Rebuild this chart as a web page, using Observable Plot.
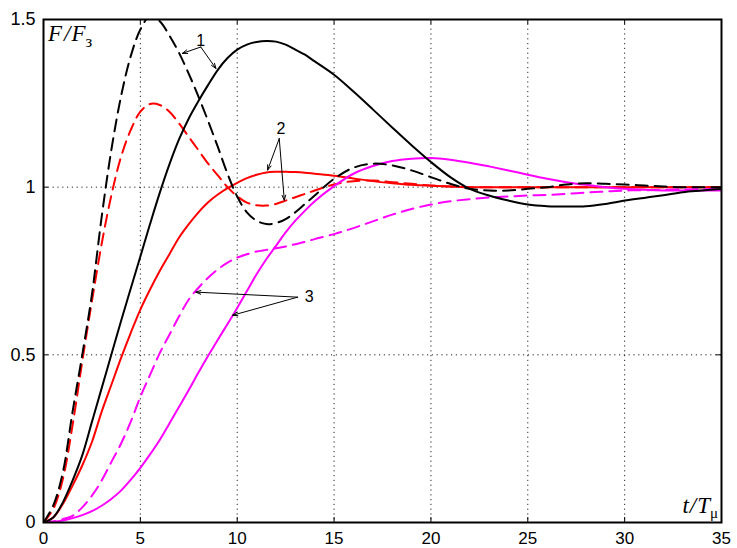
<!DOCTYPE html>
<html>
<head>
<meta charset="utf-8">
<script src="https://cdn.jsdelivr.net/npm/d3@7"></script>
<script src="https://cdn.jsdelivr.net/npm/@observablehq/plot@0.6"></script>
<style>
  html, body { margin: 0; padding: 0; background: white; }
  #chart { width: 737px; height: 548px; }
</style>
</head>
<body>
<div id="chart"></div>
<script>
// ---- data ----
const tGrid = [0,0.5,1,1.5,2,2.5,3,3.5,4,4.5,5,5.5,6,6.5,7,7.5,8,8.5,9,9.5,10,10.5,11,11.5,12,12.5,13,13.5,14,
               15,16,17,18,19,20,21,22,23,24,25,26,27,28,29,30,31,32,33,34,35];

const fBlackSolid = [0,0.015,0.06,0.125,0.2,0.3,0.4,0.5,0.6,0.697,0.793,0.89,0.983,1.068,1.143,1.205,1.257,1.305,1.35,1.385,1.41,1.425,1.433,1.436,1.434,1.425,1.41,1.395,1.375,
               1.335,1.285,1.232,1.178,1.125,1.075,1.03,0.995,0.975,0.96,0.948,0.943,0.942,0.943,0.95,0.96,0.968,0.976,0.985,0.99,0.995];

const fBlackDashed = [0,0.05,0.15,0.33,0.50,0.68,0.91,1.11,1.27,1.39,1.47,1.51,1.495,1.452,1.40,1.338,1.27,1.197,1.12,1.04,0.972,0.925,0.90,0.89,0.893,0.905,0.925,0.95,0.975,
               1.025,1.058,1.07,1.065,1.05,1.03,1.01,0.995,0.99,0.99,0.995,1.0,1.008,1.012,1.01,1.008,1.005,1.002,1.0,1.0,1.0];

const fRedSolid = [0,0.015,0.055,0.11,0.17,0.24,0.33,0.41,0.49,0.565,0.635,0.695,0.75,0.80,0.85,0.89,0.925,0.955,0.978,0.997,1.013,1.027,1.037,1.044,1.046,1.046,1.045,1.043,1.04,
               1.034,1.026,1.018,1.012,1.007,1.004,1.002,1.0,1.0,1.0,1.0,1.0,1.0,1.0,1.0,1.0,1.0,1.0,1.0,1.0,1.0];

const fRedDashed = [0,0.04,0.13,0.29,0.48,0.66,0.83,0.975,1.09,1.17,1.225,1.248,1.245,1.225,1.19,1.15,1.11,1.07,1.035,1.0,0.973,0.954,0.946,0.945,0.95,0.96,0.97,0.98,0.99,
               1.008,1.018,1.02,1.015,1.01,1.005,1.002,1.0,1.0,1.0,1.0,1.0,1.0,1.0,1.0,1.0,1.0,1.0,1.0,1.0,1.0];

const fMagentaSolid = [0,0.002,0.006,0.013,0.022,0.034,0.05,0.07,0.095,0.127,0.163,0.203,0.246,0.295,0.345,0.395,0.447,0.497,0.545,0.592,0.64,0.69,0.74,0.785,0.825,0.865,0.90,0.93,0.958,
               1.003,1.04,1.063,1.078,1.085,1.087,1.082,1.073,1.062,1.05,1.037,1.025,1.015,1.007,1.0,0.995,0.992,0.99,0.99,0.99,0.99];

const fMagentaDashed = [0,0.003,0.01,0.02,0.045,0.08,0.125,0.18,0.235,0.30,0.375,0.44,0.505,0.56,0.615,0.665,0.70,0.73,0.755,0.775,0.79,0.80,0.808,0.813,0.818,0.823,0.83,0.837,0.845,
               0.86,0.878,0.898,0.918,0.935,0.948,0.958,0.964,0.969,0.972,0.975,0.977,0.98,0.984,0.987,0.99,0.991,0.992,0.993,0.994,0.995];

const xTicks = [0,5,10,15,20,25,30,35];
const yTicks = [0,0.5,1,1.5];
const xGrid = [5,10,15,20,25,30];
const yGrid = [0.5,1];

// curve labels and their arrows (t, F)
const labelText = ["1","2","3"];
const labelT = [8.12, 12.26, 13.71];
const labelF = [1.436, 1.173, 0.672];
const arrowFromT = [8.12, 8.12, 12.17, 12.17, 13.12, 13.12];
const arrowFromF = [1.418, 1.418, 1.145, 1.145, 0.672, 0.672];
const arrowToT   = [7.17, 8.90, 11.57, 12.43, 7.86, 9.76];
const arrowToF   = [1.399, 1.354, 1.051, 0.961, 0.687, 0.618];

// ---- layout ----
const W = 737, H = 548;
const mL = 43, mR = 16, mT = 19, mB = 26;
const innerW = W - mL - mR, innerH = H - mT - mB;
const tickLen = 5;

const series = [
  {f: fRedSolid, color: "#ff0000", dash: null},
  {f: fRedDashed, color: "#ff0000", dash: "12,7"},
  {f: fMagentaSolid, color: "#ff00ff", dash: null},
  {f: fMagentaDashed, color: "#ff00ff", dash: "12,7"},
  {f: fBlackSolid, color: "#000000", dash: null},
  {f: fBlackDashed, color: "#000000", dash: "12,7"}
];

const lineMarks = series.map(s => Plot.line(tGrid.map((t, i) => ({t, f: s.f[i]})), {
  x: "t", y: "f", stroke: s.color, strokeWidth: 2,
  strokeDasharray: s.dash ?? undefined, curve: "catmull-rom", clip: true
}));

const labels = labelText.map((s, i) => ({s, t: labelT[i], f: labelF[i]}));
const arrows = arrowFromT.map((t, i) => ({t1: t, f1: arrowFromF[i], t2: arrowToT[i], f2: arrowToF[i]}));

const chart = Plot.plot({
  width: W, height: H,
  marginLeft: mL, marginRight: mR, marginTop: mT, marginBottom: mB,
  style: {fontFamily: "'Liberation Sans', Arial, sans-serif", fontSize: "18px", background: "white", color: "black"},
  x: {domain: [0, 35], label: null},
  y: {domain: [0, 1.5], label: null},
  marks: [
    Plot.ruleX(xGrid, {x: d => d, stroke: "#222", strokeWidth: 1, strokeDasharray: "1.2,3.6"}),
    Plot.ruleY(yGrid, {y: d => d, stroke: "#222", strokeWidth: 1, strokeDasharray: "1.2,3.6"}),
    // inward ticks (bottom, top, left, right)
    Plot.tickX(xTicks, {x: d => d, stroke: "black", insetTop: innerH - tickLen}),
    Plot.tickX(xTicks, {x: d => d, stroke: "black", insetBottom: innerH - tickLen}),
    Plot.tickY(yTicks, {y: d => d, stroke: "black", insetRight: innerW - tickLen}),
    Plot.tickY(yTicks, {y: d => d, stroke: "black", insetLeft: innerW - tickLen}),
    ...lineMarks,
    Plot.arrow(arrows, {x1: "t1", y1: "f1", x2: "t2", y2: "f2", stroke: "black", strokeWidth: 1, headLength: 8, headAngle: 40}),
    Plot.text(labels, {x: "t", y: "f", text: "s", fontSize: 16, fill: "black"}),
    Plot.frame({stroke: "black", strokeWidth: 2}),
    Plot.axisX(xTicks, {tickSize: 0, tickPadding: 9, fontSize: 17, tickFormat: d => String(d)}),
    Plot.axisY(yTicks, {tickSize: 0, tickPadding: 8, tickFormat: d => String(d)})
  ]
});

// axis titles with sub-scripts
const sx = chart.scale("x"), sy = chart.scale("y");
const svg = d3.select(chart);
const fLabel = svg.append("text")
  .attr("x", sx.apply(0) + 5).attr("y", sy.apply(1.5) + 22)
  .attr("font-family", "'Liberation Serif', 'Times New Roman', serif")
  .attr("font-size", 23).attr("font-style", "italic").attr("text-anchor", "start").attr("fill", "black");
fLabel.append("tspan").text("F");
fLabel.append("tspan").attr("dx", 2).text("/");
fLabel.append("tspan").attr("dx", 1).text("F");
fLabel.append("tspan").attr("font-style", "normal").attr("font-size", 17).attr("dy", 6).text("з");

const tLabel = svg.append("text")
  .attr("x", sx.apply(35) - 3).attr("y", sy.apply(0) - 9)
  .attr("font-family", "'Liberation Serif', 'Times New Roman', serif")
  .attr("font-size", 23).attr("font-style", "italic").attr("text-anchor", "end").attr("fill", "black");
tLabel.append("tspan").text("t");
tLabel.append("tspan").attr("dx", 1).text("/");
tLabel.append("tspan").attr("dx", 1).text("T");
tLabel.append("tspan").attr("font-style", "normal").attr("font-size", 15).attr("dy", 5).text("μ");

document.getElementById("chart").append(chart);
</script>
</body>
</html>
